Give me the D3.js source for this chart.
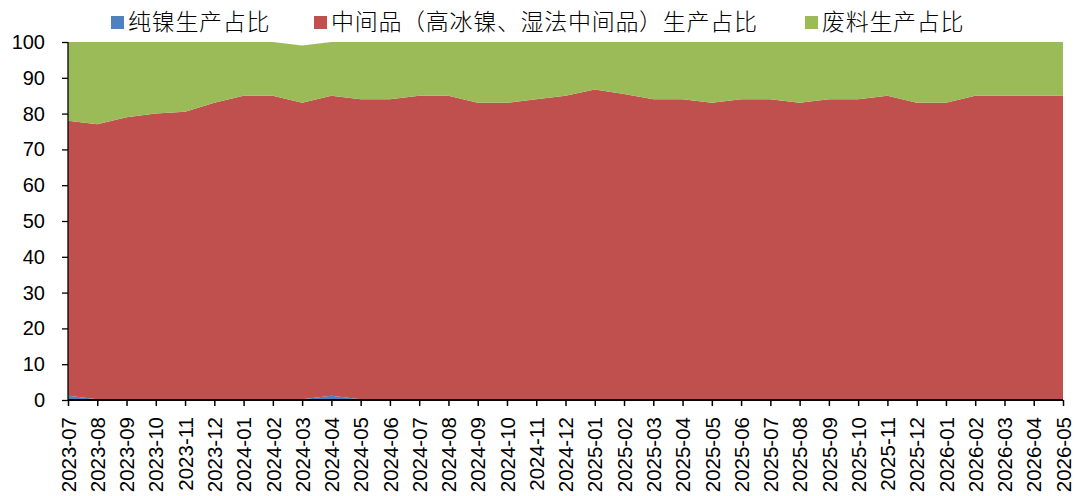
<!DOCTYPE html>
<html><head><meta charset="utf-8">
<script src="https://cdn.jsdelivr.net/npm/d3@7"></script>
<style>body{margin:0;background:#fff}svg{display:block}</style>
</head><body>
<svg id="c" width="1074" height="496"></svg>
<script>
const months = ["2023-07","2023-08","2023-09","2023-10","2023-11","2023-12","2024-01","2024-02","2024-03","2024-04","2024-05","2024-06","2024-07","2024-08","2024-09","2024-10","2024-11","2024-12","2025-01","2025-02","2025-03","2025-04","2025-05","2025-06","2025-07","2025-08","2025-09","2025-10","2025-11","2025-12","2026-01","2026-02","2026-03","2026-04","2026-05"];
const pureNickel = [1.2,0.2,0,0,0,0,0,0,0.2,1.2,0.2,0,0,0,0,0,0,0,0,0,0,0,0,0,0,0,0,0,0,0,0,0,0,0,0];
const intermediate = [76.8,76.8,79,80,80.5,83,85,85,82.8,83.8,83.8,84,85,85,83,83,84,85,86.7,85.5,84,84,83,84,84,83,84,84,85,83,83,85,85,85,85];
const scrap = [22,23,21,20,19.5,17,15,15,16,15,16,16,15,15,17,17,16,15,13.3,14.5,16,16,17,16,16,17,16,16,15,17,17,15,15,15,15];
const seriesNames = ["纯镍生产占比","中间品（高冰镍、湿法中间品）生产占比","废料生产占比"];
const colors = ["#4F81BD","#C0504D","#9BBB59"];
const yTicks = [0,10,20,30,40,50,60,70,80,90,100];

const rows = months.map((m,i)=>({m, a:pureNickel[i], b:intermediate[i], c:scrap[i]}));
const stack = d3.stack().keys(["a","b","c"])(rows);

const svg = d3.select("#c");
const L=68, R=1063, T=42, B=400;
const x = d3.scalePoint().domain(months).range([L,R]);
const y = d3.scaleLinear().domain([0,100]).range([B,T]);

const area = d3.area().x(d=>x(d.data.m)).y0(d=>y(d[0])).y1(d=>y(d[1]));
svg.append("g").selectAll("path").data(stack).join("path")
  .attr("d",area).attr("fill",(d,i)=>colors[i]);

const yAxis = svg.append("g").attr("transform",`translate(${L},0)`)
  .call(d3.axisLeft(y).tickValues(yTicks).tickSize(6).tickPadding(17));
yAxis.select(".domain").attr("stroke","#000").attr("stroke-width",1.3).attr("d",`M0,${B}V${T}`);
yAxis.selectAll(".tick line").attr("stroke","#000").attr("stroke-width",1.3);
yAxis.selectAll("text").attr("font-family","Liberation Sans, Arial, sans-serif").attr("font-size",20).attr("fill","#000");

const xAxis = svg.append("g").attr("transform",`translate(0,${B})`)
  .call(d3.axisBottom(x).tickSize(6).tickSizeOuter(0));
xAxis.select(".domain").attr("stroke","#000").attr("stroke-width",2).attr("d",`M${L},0H${R}`);
xAxis.selectAll(".tick line").attr("stroke","#000").attr("stroke-width",1.5);
xAxis.selectAll("text")
  .attr("font-family","Liberation Sans, Arial, sans-serif").attr("font-size",20.5).attr("fill","#000")
  .attr("transform","rotate(-90)").attr("text-anchor","end")
  .attr("x",-17).attr("y",0).attr("dy","0.35em");

const legX = [111,314,805];
const lg = svg.append("g");
seriesNames.forEach((n,i)=>{
  lg.append("rect").attr("x",legX[i]).attr("y",16).attr("width",13).attr("height",13).attr("fill",colors[i]);
  lg.append("text").attr("x",legX[i]+17).attr("y",30)
    .attr("font-family","Noto Sans CJK SC, sans-serif").attr("font-weight",300)
    .attr("font-size",23).attr("letter-spacing",0.7).attr("fill","#000").text(n);
});
</script>
</body></html>
